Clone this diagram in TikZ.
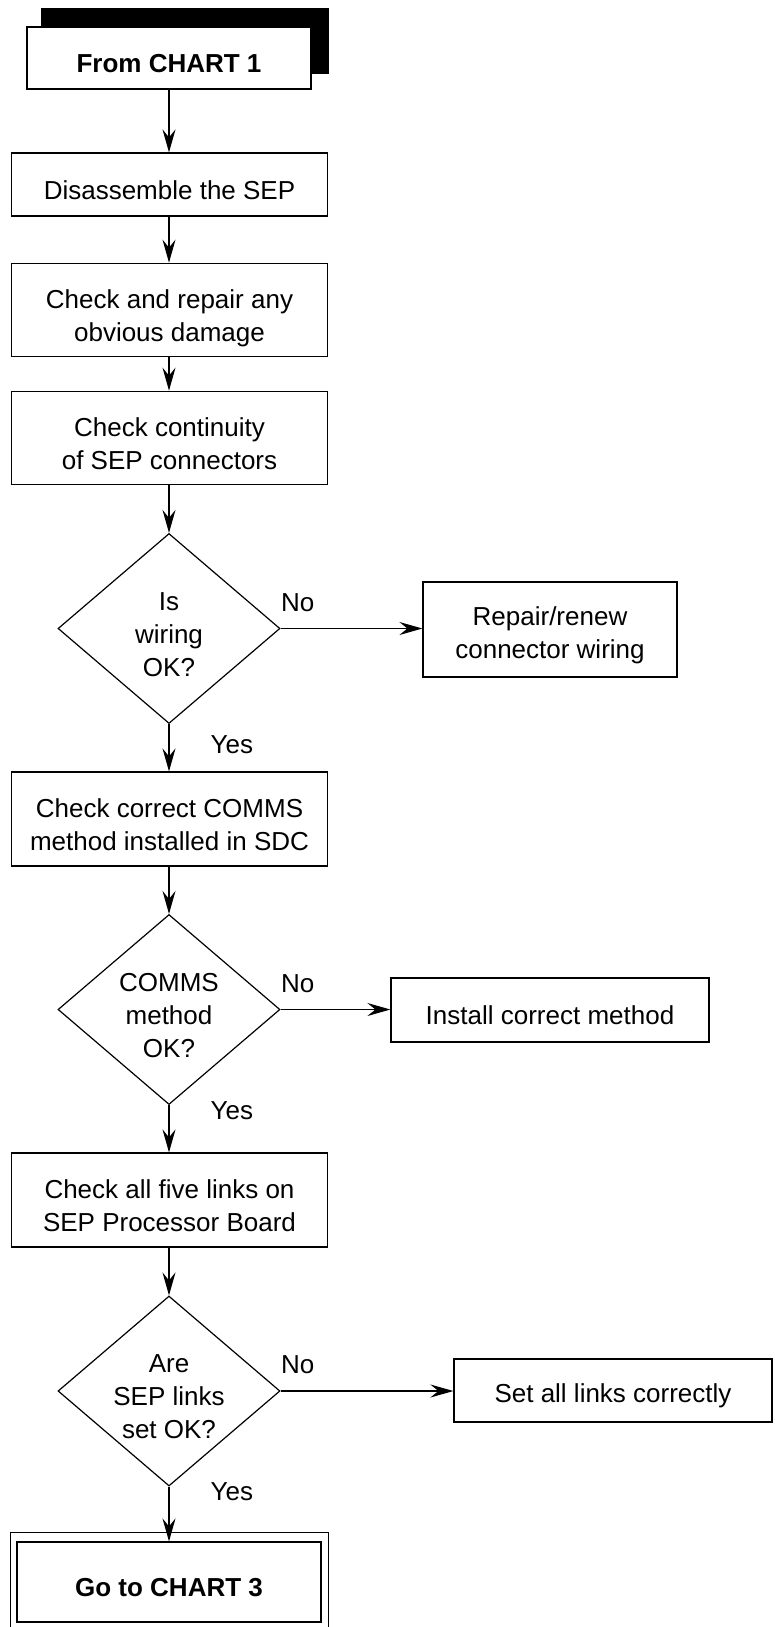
\documentclass[tikz,border=0pt]{standalone}
\usepackage{fontspec}
\setmainfont{Liberation Sans}
\usetikzlibrary{arrows.meta,shapes.geometric,backgrounds}
\newcommand\tstrut{\rule{0pt}{30pt}}
\begin{document}
\begin{tikzpicture}[x=1pt,y=-1pt,line width=1.2pt,
  txt/.style={font=\fontsize{26}{33}\selectfont},
  box/.style={txt,draw,fill=white,inner sep=0pt,align=center},
  bbox/.style={box,font=\fontsize{26}{33}\selectfont\bfseries},
  dec/.style={txt,diamond,draw,fill=white,inner sep=-4pt,shape aspect=1.17,
    minimum width=222pt,minimum height=190pt,align=center},
  arr/.style={-{Stealth[length=23pt,width=13pt,inset=8pt]}},
  lab/.style={txt,inner sep=0pt,anchor=west}]
\useasboundingbox (0,0) rectangle (774,1627);

% start
\node[bbox,minimum width=284pt,minimum height=62pt] (start) at (169,58) {\tstrut From CHART 1};
\begin{scope}[on background layer]
\fill ([xshift=15pt,yshift=18pt]start.north west) rectangle ([xshift=17pt,yshift=16pt]start.south east);
\end{scope}

\node[box,minimum width=316pt,minimum height=63pt] (b1) at (169.5,184.5) {\tstrut Disassemble the SEP};
\node[box,minimum width=316pt,minimum height=93.5pt] (b2) at (169.5,310) {\rule{0pt}{36pt}Check and repair any\\obvious damage};
\node[box,minimum width=316pt,minimum height=93.5pt] (b3) at (169.5,438) {\tstrut Check continuity\\of SEP connectors};
\node[dec] (d1) at (169,628.5) {\tstrut Is\\wiring\\OK?};
\node[box,minimum width=254pt,minimum height=95pt] (r1) at (550,629.5) {\tstrut Repair/renew\\connector wiring};
\node[box,minimum width=316pt,minimum height=94pt] (b4) at (169.5,819) {\tstrut Check correct COMMS\\method installed in SDC};
\node[dec] (d2) at (169,1009.5) {\tstrut COMMS\\method\\OK?};
\node[box,minimum width=318pt,minimum height=64pt] (r2) at (550,1010) {\tstrut Install correct method};
\node[box,minimum width=316pt,minimum height=94pt] (b5) at (169.5,1200) {\tstrut Check all five links on\\SEP Processor Board};
\node[dec] (d3) at (169,1391) {\tstrut Are\\SEP links\\set OK?};
\node[box,minimum width=318pt,minimum height=63pt] (r3) at (613,1390.5) {\tstrut Set all links correctly};
\node[bbox,minimum width=304pt,minimum height=80pt] (end) at (169,1582) {\tstrut Go to CHART 3};
\draw ([xshift=-6pt,yshift=9pt]end.north west) rectangle ([xshift=7pt,yshift=-14pt]end.south east);

% labels
\node[lab] (no1) at ([yshift=26pt]d1.east) {No};
\node[lab] (no2) at ([yshift=26pt]d2.east) {No};
\node[lab] (no3) at ([yshift=26pt]d3.east) {No};
\node[lab] (yes1) at ([xshift=41pt,yshift=-21pt]d1.south) {Yes};
\node[lab] (yes2) at ([xshift=41pt,yshift=-6pt]d2.south) {Yes};
\node[lab] (yes3) at ([xshift=41pt,yshift=-5pt]d3.south) {Yes};

% connectors
\draw[arr] (start.south) -- (start.south |- b1.north);
\draw[arr] (b1.south -| start.south) -- (start.south |- b2.north);
\draw[arr] (b2.south -| start.south) -- (start.south |- b3.north);
\draw[arr] (b3.south -| d1.north) -- (d1.north);
\draw[arr] (d1.south) -- (d1.south |- b4.north);
\draw[arr] (d1.east) -- (d1.east -| r1.west);
\draw[arr] (b4.south -| d2.north) -- (d2.north);
\draw[arr] (d2.south) -- (d2.south |- b5.north);
\draw[arr] (d2.east) -- (d2.east -| r2.west);
\draw[arr] (b5.south -| d3.north) -- (d3.north);
\draw[arr] (d3.south) -- (d3.south |- end.north);
\draw[arr] (d3.east) -- (d3.east -| r3.west);
\end{tikzpicture}
\end{document}
